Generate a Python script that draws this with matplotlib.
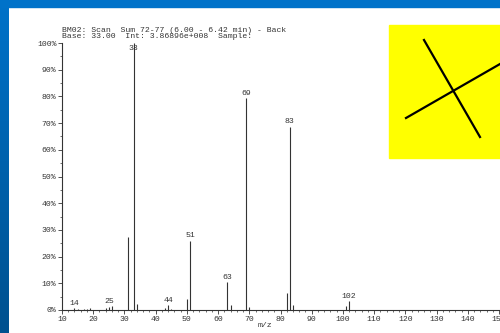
import numpy as np
import matplotlib
matplotlib.use('Agg')
import matplotlib.pyplot as plt
from matplotlib.patches import Rectangle
from matplotlib.lines import Line2D
from matplotlib.ticker import MultipleLocator, FuncFormatter

# Spectrum peaks (m/z, relative intensity %)
mz = [14, 15, 17, 18, 19, 24, 25, 26, 31, 33, 34, 43, 44, 45,
      50, 51, 63, 64, 69, 70, 82, 83, 84, 101, 102]
intensidade = [0.7, 0.3, 0.4, 0.5, 0.9, 0.8, 1.3, 1.4, 27.2, 100, 2.2, 0.7, 1.9, 0.5,
               4.1, 26.0, 10.5, 1.9, 79.4, 1.2, 6.5, 68.6, 1.9, 1.5, 3.4]
rotulos = [14, 25, 33, 44, 51, 63, 69, 83, 102]

titulo1 = 'BM02: Scan  Sum 72-77 (6.00 - 6.42 min) - Back'
titulo2 = 'Base: 33.00  Int: 3.86896e+008  Sample:'

W, H = 500, 333
fig = plt.figure(figsize=(5, 3.33), dpi=100)
fig.patch.set_facecolor('white')

def fx(px):
    return px / W

def fy(py):
    return 1 - py / H

# blue frame (left strip gradient + top strip)
ax_l = fig.add_axes([0, 0, fx(9), 1])
grad = np.linspace(0, 1, 256).reshape(-1, 1)
cmap = matplotlib.colors.LinearSegmentedColormap.from_list('azul', ['#0072c9', '#00518f'])
ax_l.imshow(grad, aspect='auto', cmap=cmap, extent=[0, 1, 0, 1], origin='upper')
ax_l.axis('off')
fig.patches.append(Rectangle((0, fy(7)), 1, 1 - fy(7), transform=fig.transFigure,
                             color='#0072c9', zorder=5))

fonte = 'Liberation Mono'
cor = '#333333'

ax = fig.add_axes([fx(62), fy(310), fx(499) - fx(62), fy(43) - fy(310)])
ax.vlines(mz, 0, intensidade, color=cor, lw=0.8)
for m, v in zip(mz, intensidade):
    if m in rotulos:
        ax.annotate(str(m), (m, min(v, 96)), xytext=(0, 1), textcoords='offset points',
                    ha='center', va='bottom', fontsize=5.9, family=fonte, color=cor)

ax.set_xlim(10, 150)
ax.set_ylim(0, 100)
ax.xaxis.set_major_locator(MultipleLocator(10))
ax.xaxis.set_minor_locator(MultipleLocator(2))
ax.yaxis.set_major_locator(MultipleLocator(10))
ax.yaxis.set_minor_locator(MultipleLocator(5))
ax.yaxis.set_major_formatter(FuncFormatter(lambda v, p: '%d%%' % v))
for s in ['top', 'right']:
    ax.spines[s].set_visible(False)
for s in ['left', 'bottom']:
    ax.spines[s].set_color(cor)
    ax.spines[s].set_linewidth(0.8)
ax.tick_params(which='major', length=3, width=0.6, color=cor, labelsize=5.9,
               labelcolor=cor, pad=1)
ax.tick_params(which='minor', length=1.5, width=0.5, color=cor)
for lab in ax.get_xticklabels() + ax.get_yticklabels():
    lab.set_family(fonte)
ax.set_xlabel('m/z', fontsize=5.9, family=fonte, color=cor, labelpad=1)
ax.xaxis.set_label_coords(0.465, -0.045)
ax.patch.set_alpha(0)

fig.text(fx(62), fy(30), titulo1, fontsize=5.9, family=fonte, color=cor, va='center')
fig.text(fx(62), fy(37), titulo2, fontsize=5.9, family=fonte, color=cor, va='center')

# yellow box with cross
fig.patches.append(Rectangle((fx(389), fy(158)), 1 - fx(389), fy(25) - fy(158),
                             transform=fig.transFigure, color='#ffff00', zorder=6))
fig.lines.append(Line2D([fx(424), fx(480)], [fy(40), fy(137)], transform=fig.transFigure,
                        color='black', lw=1.6, zorder=7))
fig.lines.append(Line2D([fx(406), fx(500)], [fy(118), fy(64)], transform=fig.transFigure,
                        color='black', lw=1.6, zorder=7))

fig.savefig('out.png', dpi=100)
